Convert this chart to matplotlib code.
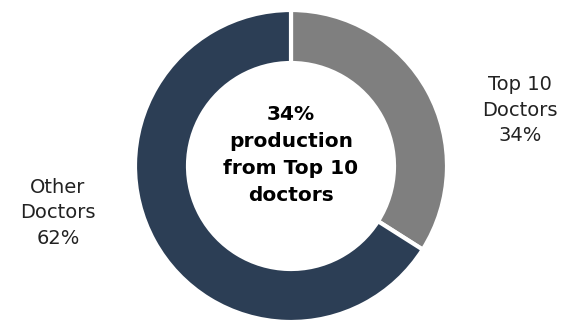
import matplotlib
matplotlib.use("Agg")
import matplotlib.pyplot as plt

names = ["Top 10\nDoctors", "Other\nDoctors"]
arc_shares = [34, 66]
label_pcts = ["34%", "62%"]
colors = ["#7f7f7f", "#2c3e55"]
center_text = "34%\nproduction\nfrom Top 10\ndoctors"

plt.rcParams['font.family'] = ['DejaVu Sans']

fig = plt.figure(figsize=(5.76, 3.21), dpi=100)
ax = fig.add_axes([0, 0, 1, 1])

ax.pie(arc_shares, colors=colors, startangle=90, counterclock=False,
       center=(291, 155), radius=156, frame=True,
       wedgeprops=dict(width=53, edgecolor='white', linewidth=3))
ax.set_xlim(0, 576)
ax.set_ylim(0, 321)
ax.set_aspect('equal')
ax.axis('off')

# outside labels
ax.text(520, 211, f"{names[0]}\n{label_pcts[0]}", ha='center', va='center',
        fontsize=14, color='#222222', linespacing=1.45)
ax.text(58, 108, f"{names[1]}\n{label_pcts[1]}", ha='center', va='center',
        fontsize=14, color='#222222', linespacing=1.45)

ax.text(291, 166, center_text, ha='center', va='center', fontsize=14.5,
        fontweight='bold', color='black', linespacing=1.55)

fig.savefig('out.png', dpi=100)
